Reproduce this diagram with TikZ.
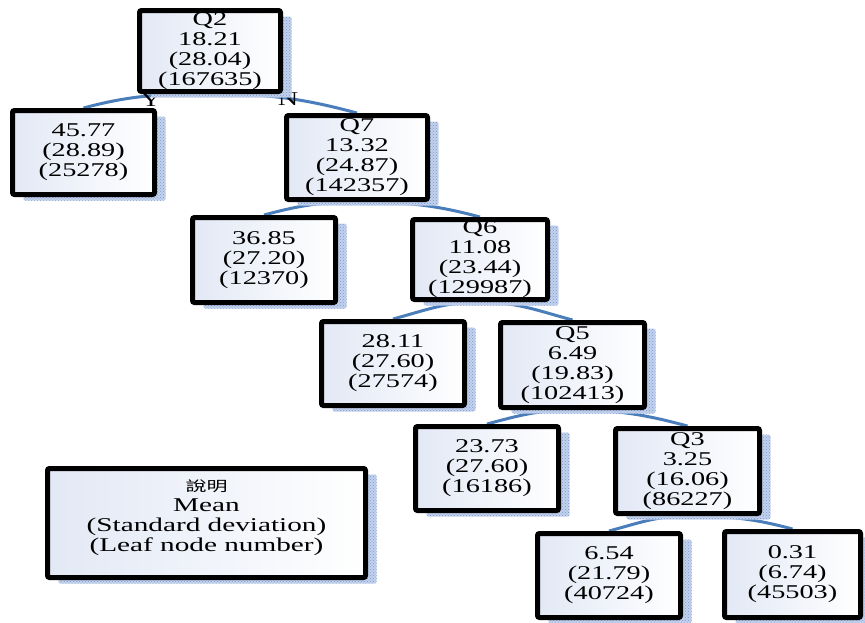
\documentclass[tikz,border=0pt]{standalone}
\usepackage{fontspec}
\setmainfont{Liberation Serif}
\newfontfamily\cjk{Noto Sans CJK TC}
\usepackage{graphicx}
\usetikzlibrary{patterns,backgrounds}
\definecolor{linkblue}{RGB}{74,126,187}
\definecolor{shadowblue}{RGB}{120,150,210}
\definecolor{shadowfill}{RGB}{196,210,236}
\definecolor{boxtint}{RGB}{226,232,245}
\newcommand\boxlines[2][1.45]{\scalebox{#1}[1]{\begin{tabular}{@{}c@{}}#2\end{tabular}}}
\tikzset{
  tbox/.style={draw=black, line width=5pt, rounded corners=2pt,
    left color=boxtint, right color=white, inner sep=0pt,
    font=\fontsize{19.5}{20}\selectfont,
    preaction={fill=shadowfill, transform canvas={shift={(11pt,-6pt)}}},
    preaction={pattern=crosshatch dots, pattern color=shadowblue,
      transform canvas={shift={(11pt,-6pt)}}}},
  link/.style={draw=linkblue, line width=3pt},
  yn/.style={font=\fontsize{19.5}{20}\selectfont, inner sep=0pt},
}
\begin{document}
\begin{tikzpicture}[x=1pt,y=1pt]
\useasboundingbox (0,0) rectangle (865,-622);
% decision and leaf boxes
\node[tbox, minimum width=141pt, minimum height=81pt] (q2) at (210,-51) {\boxlines{Q2\\18.21\\(28.04)\\(167635)}};
\node[tbox, minimum width=142pt, minimum height=84pt] (l1) at (83.5,-152.5) {\boxlines{45.77\\(28.89)\\(25278)}};
\node[tbox, minimum width=141pt, minimum height=84pt] (q7) at (357,-157.5) {\boxlines{Q7\\13.32\\(24.87)\\(142357)}};
\node[tbox, minimum width=143pt, minimum height=85pt] (l2) at (264,-260) {\boxlines{36.85\\(27.20)\\(12370)}};
\node[tbox, minimum width=135pt, minimum height=80pt] (q6) at (480,-259.5) {\boxlines{Q6\\11.08\\(23.44)\\(129987)}};
\node[tbox, minimum width=143pt, minimum height=84pt] (l3) at (393,-363.5) {\boxlines{28.11\\(27.60)\\(27574)}};
\node[tbox, minimum width=144pt, minimum height=85pt] (q5) at (572.5,-365) {\boxlines{Q5\\6.49\\(19.83)\\(102413)}};
\node[tbox, minimum width=143pt, minimum height=84pt] (l4) at (487,-468.5) {\boxlines{23.73\\(27.60)\\(16186)}};
\node[tbox, minimum width=144pt, minimum height=85pt] (q3) at (687.5,-471) {\boxlines{Q3\\3.25\\(16.06)\\(86227)}};
\node[tbox, minimum width=143pt, minimum height=84pt] (l5) at (609,-575.5) {\boxlines{6.54\\(21.79)\\(40724)}};
\node[tbox, minimum width=136pt, minimum height=86pt] (l6) at (792.5,-574.5) {\boxlines{0.31\\(6.74)\\(45503)}};
% legend
\node[tbox, minimum width=318pt, minimum height=109pt] (legend) at (206.5,-523)
  {\boxlines[1.5]{{\cjk\fontsize{14}{20}\selectfont 說明}\\Mean\\(Standard deviation)\\(Leaf node number)\\[12pt]}};
% connectors and branch labels
\begin{scope}[on background layer]
\draw[link] (q2.south) to[out=180,in=15] (l1.north);
\draw[link] (q2.south) to[out=0,in=165] (q7.north);
\draw[link] (q7.south) to[out=180,in=15] (l2.north);
\draw[link] (q7.south) to[out=0,in=165] (q6.north);
\draw[link] (q6.south) to[out=180,in=15] (l3.north);
\draw[link] (q6.south) to[out=0,in=165] (q5.north);
\draw[link] (q5.south) to[out=180,in=15] (l4.north);
\draw[link] (q5.south) to[out=0,in=165] (q3.north);
\draw[link] (q3.south) to[out=180,in=15] (l5.north);
\draw[link] (q3.south) to[out=0,in=165] (l6.north);
\node[yn] (ylab) at (151,-100) {\scalebox{1.45}[1]{Y}};
\node[yn] (nlab) at (288,-99) {\scalebox{1.45}[1]{N}};
\end{scope}
\end{tikzpicture}
\end{document}
